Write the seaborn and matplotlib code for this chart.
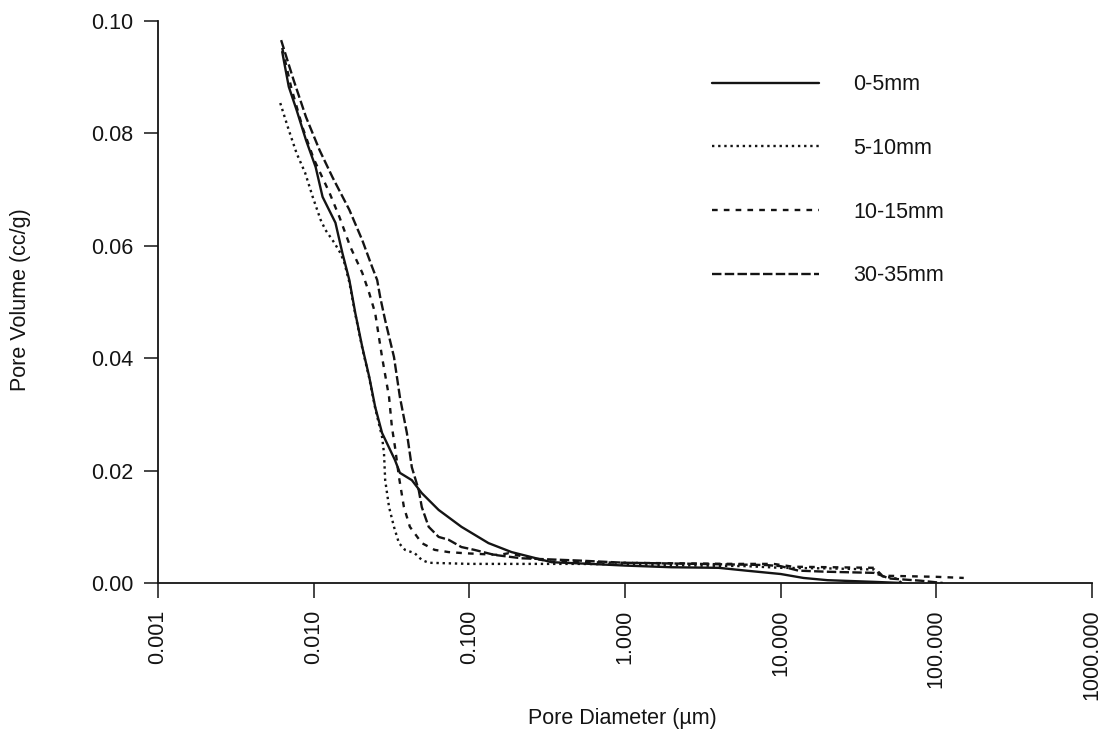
import matplotlib
matplotlib.use("Agg")
import matplotlib.pyplot as plt
import seaborn as sns
import pandas as pd

# ---- data ----
labels = ["0-5mm", "5-10mm", "10-15mm", "30-35mm"]

d_0_5 = [0.00628, 0.00692, 0.00776, 0.00893, 0.0103, 0.01141, 0.0138, 0.0153, 0.01695,
         0.01852, 0.02052, 0.02274, 0.02485, 0.0275, 0.03326, 0.0358, 0.04271, 0.04948,
         0.06351, 0.08894, 0.1327, 0.1868, 0.2512, 0.3379, 0.6, 1.0, 2.0, 4.0, 6.0, 10.0,
         14.0, 20.0, 40.0, 60.0]
v_0_5 = [0.0945, 0.0883, 0.0842, 0.0788, 0.0740, 0.0687, 0.0641, 0.0587, 0.0539,
         0.0480, 0.0420, 0.0367, 0.0313, 0.0267, 0.0219, 0.0196, 0.0183, 0.0160,
         0.0130, 0.0100, 0.0071, 0.0055, 0.0046, 0.0037, 0.0034, 0.0031, 0.0028, 0.0027,
         0.0022, 0.0016, 0.0009, 0.0005, 0.0002, 0.0]

d_5_10 = [0.0061, 0.00692, 0.00776, 0.00881, 0.00986, 0.01109, 0.01192, 0.0136, 0.01486,
          0.01574, 0.01695, 0.01852, 0.02052, 0.02274, 0.02485, 0.0275, 0.0283, 0.0288,
          0.0305, 0.0328, 0.0353, 0.0386, 0.0446, 0.0495, 0.0548, 0.1, 0.2, 0.5, 1.0,
          3.0, 6.0, 10.0, 20.0, 40.0, 45.0, 55.0, 60.0]
v_5_10 = [0.0854, 0.0806, 0.0765, 0.0730, 0.0687, 0.0646, 0.0628, 0.0605, 0.0587,
          0.0570, 0.0535, 0.0478, 0.0418, 0.0365, 0.0311, 0.0260, 0.0231, 0.0183,
          0.0135, 0.0100, 0.0071, 0.0059, 0.0053, 0.0041, 0.0036, 0.0034, 0.0034, 0.0034,
          0.0033, 0.0031, 0.0030, 0.0027, 0.0026, 0.0024, 0.0012, 0.0008, 0.0]

d_10_15 = [0.00628, 0.0072, 0.0085, 0.0100, 0.01265, 0.01465, 0.01721, 0.02052, 0.02274,
           0.02485, 0.0275, 0.0305, 0.0318, 0.0333, 0.0353, 0.0380, 0.0415, 0.0495,
           0.0598, 0.0735, 0.0929, 0.154, 0.179, 0.240, 0.338, 1.0, 5.0, 9.0, 12.0,
           40.0, 45.0, 100.0, 150.0]
v_10_15 = [0.0952, 0.0880, 0.0810, 0.0755, 0.0694, 0.0651, 0.0598, 0.0552, 0.0516,
           0.0480, 0.0402, 0.0331, 0.0278, 0.0242, 0.0189, 0.0135, 0.0100, 0.0071,
           0.0059, 0.0055, 0.0053, 0.0050, 0.0053, 0.0045, 0.0038, 0.0036, 0.0034, 0.0034,
           0.0029, 0.0027, 0.0013, 0.0011, 0.0009]

d_30_35 = [0.00618, 0.00743, 0.00893, 0.01092, 0.01321, 0.01695, 0.02052, 0.02377, 0.02559,
           0.02674, 0.02877, 0.03281, 0.0358, 0.0397, 0.04271, 0.04733, 0.0495, 0.0548,
           0.0635, 0.0735, 0.0889, 0.1076, 0.1449, 0.2163, 0.5, 1.0, 3.0, 8.0, 10.0,
           13.0, 20.0, 40.0, 50.0, 80.0, 110.0]
v_30_35 = [0.0966, 0.0895, 0.0829, 0.0770, 0.0722, 0.0664, 0.0610, 0.0562, 0.0539,
           0.0509, 0.0468, 0.0402, 0.0331, 0.0267, 0.0206, 0.0165, 0.0135, 0.0100,
           0.0082, 0.0077, 0.0064, 0.0059, 0.0050, 0.0044, 0.0040, 0.0036, 0.0034, 0.0032,
           0.0030, 0.0022, 0.0020, 0.0018, 0.0008, 0.0004, 0.0]

x_ticks = [0.001, 0.01, 0.1, 1, 10, 100, 1000]
x_tick_labels = ["0.001", "0.010", "0.100", "1.000", "10.000", "100.000", "1000.000"]
y_ticks = [0.00, 0.02, 0.04, 0.06, 0.08, 0.10]
y_tick_labels = ["0.00", "0.02", "0.04", "0.06", "0.08", "0.10"]

series = [(d_0_5, v_0_5), (d_5_10, v_5_10), (d_10_15, v_10_15), (d_30_35, v_30_35)]
frames = []
for lab, (d, v) in zip(labels, series):
    frames.append(pd.DataFrame({"diameter": d, "volume": v, "sample": lab}))
df = pd.concat(frames, ignore_index=True)

# ---- style ----
sns.set_style("ticks")
plt.rcParams["font.family"] = ["Liberation Sans", "DejaVu Sans"]
FS = 15.5

fig = plt.figure(figsize=(11.11, 7.42), dpi=100)
ax = fig.add_axes([158 / 1111, 1 - 583 / 742, (1092 - 158) / 1111, (583 - 21) / 742])

styles = ["-", (0, (1.0, 1.6)), (0, (2.4, 2.6)), (0, (4.0, 1.4))]
color = "#141414"
for lab, ls in zip(labels, styles):
    sub = df[df["sample"] == lab]
    sns.lineplot(data=sub, x="diameter", y="volume", ax=ax, color=color,
                 linestyle=ls, linewidth=1.7, sort=False, estimator=None,
                 label=lab)

ax.set_xscale("log")
ax.set_xlim(0.001, 1000)
ax.set_ylim(0, 0.10)
ax.set_xticks(x_ticks)
ax.set_xticklabels(x_tick_labels, rotation=90, fontsize=FS)
ax.minorticks_off()
ax.set_yticks(y_ticks)
ax.set_yticklabels(y_tick_labels, fontsize=FS)
ax.tick_params(axis="x", length=11, width=1.1, pad=8, colors=color)
ax.tick_params(axis="y", length=10, width=1.1, pad=8, colors=color)
for s in ["top", "right"]:
    ax.spines[s].set_visible(False)
for s in ["left", "bottom"]:
    ax.spines[s].set_linewidth(1.3)
    ax.spines[s].set_color(color)

ax.set_xlabel("Pore Diameter (µm)", fontsize=FS, color=color)
ax.set_ylabel("Pore Volume (cc/g)", fontsize=FS, color=color)
ax.xaxis.set_label_coords(0.497, -0.223)
ax.yaxis.set_label_coords(-0.136, 0.504)

leg = ax.legend(loc="upper left", bbox_to_anchor=(0.593, 0.905), frameon=False,
                fontsize=FS, handlelength=4.97, handletextpad=1.6,
                labelspacing=1.98, borderpad=0, borderaxespad=0)
for t in leg.get_texts():
    t.set_color(color)

fig.savefig("out.png", dpi=100)
